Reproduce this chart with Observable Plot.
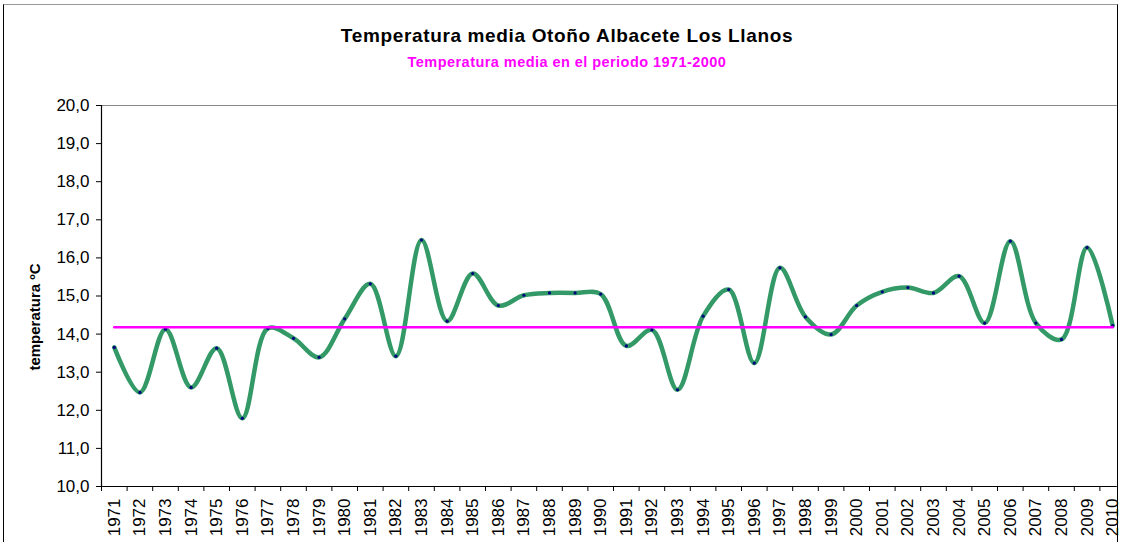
<!DOCTYPE html>
<html>
<head>
<meta charset="utf-8">
<script src="https://cdn.jsdelivr.net/npm/d3@7"></script>
<script src="https://cdn.jsdelivr.net/npm/@observablehq/plot@0.6"></script>
<style>
  html, body { margin: 0; padding: 0; background: #fff; }
  #wrap { position: relative; width: 1122px; height: 542px; overflow: hidden; font-family: "Liberation Sans", Arial, sans-serif; }
  #frame { position: absolute; left: 3px; top: 4px; width: 1113px; height: 700px; border-left: 1.5px solid #000; border-right: 1.5px solid #000; border-top: 1.5px solid #999; pointer-events: none; }
  #head { position: relative; height: 90px; text-align: center; }
  #title { position: absolute; left: 0; width: 1134px; top: 25px; font-weight: bold; font-size: 19px; letter-spacing: 0.65px; color: #000; }
  #subtitle { position: absolute; left: 0; width: 1134px; top: 54px; font-weight: bold; font-size: 14.5px; letter-spacing: 0.45px; color: #ff00ff; }
  #chart svg { overflow: hidden; display: block; }
</style>
</head>
<body>
<div id="wrap">
  <div id="head">
    <div id="title">Temperatura media Otoño Albacete Los Llanos</div>
    <div id="subtitle">Temperatura media en el periodo 1971-2000</div>
  </div>
  <div id="chart"></div>
  <div id="frame"></div>
</div>
<script>
const years = [1971,1972,1973,1974,1975,1976,1977,1978,1979,1980,
               1981,1982,1983,1984,1985,1986,1987,1988,1989,1990,
               1991,1992,1993,1994,1995,1996,1997,1998,1999,2000,
               2001,2002,2003,2004,2005,2006,2007,2008,2009,2010];
const temps = [13.65,12.47,14.13,12.60,13.63,11.79,14.15,13.89,13.39,14.40,
               15.32,13.42,16.47,14.34,15.59,14.75,15.02,15.08,15.08,15.05,
               13.69,14.11,12.54,14.47,15.17,13.24,15.74,14.45,13.99,14.75,
               15.11,15.22,15.08,15.52,14.29,16.44,14.29,13.86,16.27,14.22];
const meanValue = 14.18;
const yTicks = [10,11,12,13,14,15,16,17,18,19,20];
const yLabel = "temperatura ºC";

const series = years.map((y, i) => ({year: y, temp: temps[i]}));
const meanSeries = years.map(y => ({year: y, temp: meanValue}));
const boundaries = years.map(y => y - 0.5).concat([years[years.length - 1] + 0.5]);
const fmt = d => d.toFixed(1).replace(".", ",");
const x0 = years[0] - 0.5, x1 = years[years.length - 1] + 0.5;

const chart = Plot.plot({
  width: 1122,
  height: 452,
  marginLeft: 101,
  marginRight: 0,
  marginTop: 15,
  marginBottom: 56,
  style: {fontFamily: "'Liberation Sans', Arial, sans-serif", color: "#000", background: "#fff"},
  x: {type: "linear", domain: [x0, x1], range: [101, 1125]},
  y: {domain: [10, 20]},
  marks: [
    Plot.ruleY([20], {x1: x0, x2: 2010.18, stroke: "#888", strokeWidth: 1}),
    Plot.line(series, {x: "year", y: "temp", stroke: "#339966", strokeWidth: 4.5, curve: "catmull-rom"}),
    Plot.dot(series, {x: "year", y: "temp", r: 1.6, fill: "#000080", stroke: "none"}),
    Plot.line(meanSeries, {x: "year", y: "temp", stroke: "#ff00ff", strokeWidth: 2.6}),
    Plot.ruleX([x0], {stroke: "#000", strokeWidth: 1.2}),
    Plot.ruleY([10], {x1: x0, x2: 2010.18, stroke: "#000", strokeWidth: 1.2}),
    Plot.axisY({ticks: yTicks, tickSize: 5, tickPadding: 7, tickFormat: fmt, fontSize: 17, label: null}),
    Plot.axisX({ticks: boundaries, tickSize: 5, tickFormat: () => "", label: null}),
    Plot.axisX({ticks: years, tickSize: 0, tickPadding: 12, tickRotate: -90, tickFormat: d => String(d), fontSize: 17, label: null}),
    Plot.text([yLabel], {frameAnchor: "left", dx: -66, dy: 21, rotate: -90, textAnchor: "middle", text: d => d, fontSize: 15, fontWeight: "bold", fill: "#000"})
  ]
});
document.getElementById("chart").appendChild(chart);
</script>
</body>
</html>
